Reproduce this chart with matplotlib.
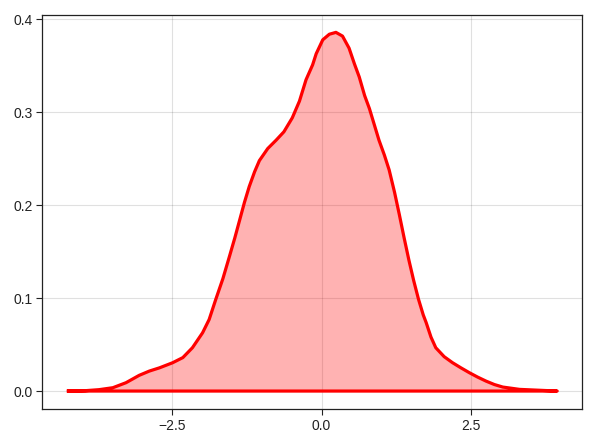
import numpy as np
import matplotlib
matplotlib.use("Agg")
import matplotlib.pyplot as plt

# density curve
xs = [-4.26, -3.95, -3.72, -3.49, -3.27, -3.05, -2.88, -2.71, -2.49, -2.32,
      -2.16, -1.99, -1.88, -1.77, -1.65, -1.54, -1.45, -1.37, -1.29, -1.21,
      -1.12, -1.04, -0.90, -0.76, -0.63, -0.49, -0.37, -0.26, -0.15, -0.09,
      0.02, 0.13, 0.24, 0.35, 0.46, 0.55, 0.63, 0.72, 0.80, 0.88,
      0.96, 1.05, 1.13, 1.22, 1.30, 1.38, 1.46, 1.54, 1.62, 1.70,
      1.75, 1.83, 1.91, 2.05, 2.19, 2.33, 2.47, 2.61, 2.75, 2.89,
      3.03, 3.31, 3.59, 3.94]
ys = [0.0, 0.0004, 0.0015, 0.0036, 0.009, 0.0169, 0.0215, 0.025, 0.0305, 0.036,
      0.0466, 0.0627, 0.077, 0.0985, 0.121, 0.145, 0.165, 0.184, 0.203, 0.220,
      0.236, 0.248, 0.261, 0.270, 0.279, 0.294, 0.312, 0.335, 0.351, 0.363,
      0.378, 0.384, 0.386, 0.382, 0.369, 0.352, 0.338, 0.318, 0.304, 0.287,
      0.270, 0.254, 0.238, 0.214, 0.190, 0.165, 0.141, 0.119, 0.099, 0.082,
      0.0735, 0.058, 0.0466, 0.037, 0.0305, 0.025, 0.0198, 0.015, 0.0107, 0.007,
      0.0043, 0.0018, 0.001, 0.0]

xticks = [-2.5, 0.0, 2.5]
yticks = [0.0, 0.1, 0.2, 0.3, 0.4]

plt.rcParams['font.family'] = ['Liberation Sans', 'DejaVu Sans']

fig = plt.figure(figsize=(5.96, 4.46), dpi=100)
ax = fig.add_axes([0.071, 0.083, 0.906, 0.884])

ax.fill_between(xs, ys, 0, color=(1, 0, 0, 0.3), linewidth=0)
ax.plot(xs + [xs[0]], ys + [ys[0]], color="red", linewidth=2.3,
        solid_joinstyle="round", solid_capstyle="butt")

ax.set_xlim(-4.67, 4.36)
ax.set_ylim(-0.0193, 0.405)
ax.set_xticks(xticks)
ax.set_yticks(yticks)
ax.set_xticklabels(["−2.5", "0.0", "2.5"])
ax.set_yticklabels(["0.0", "0.1", "0.2", "0.3", "0.4"])
ax.grid(True, color="#000000", alpha=0.12, linewidth=0.8)
ax.set_axisbelow(True)
for s in ax.spines.values():
    s.set_color("#222222")
    s.set_linewidth(0.9)
ax.tick_params(direction="out", length=4, width=0.8, color="#222222",
               labelsize=10, labelcolor="#222222", pad=3)

fig.savefig("out.png", dpi=100)
